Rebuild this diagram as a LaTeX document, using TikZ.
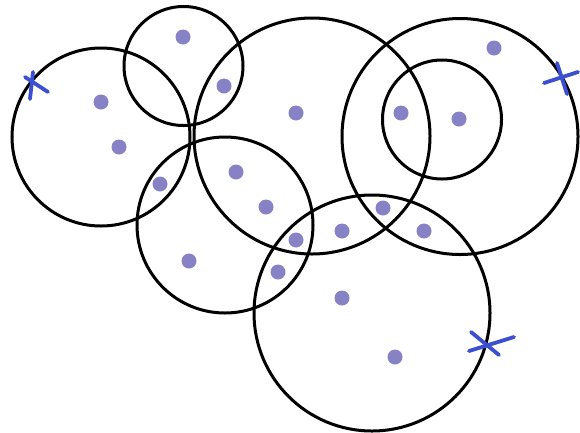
\documentclass[tikz,border=0pt]{standalone}
\definecolor{dotc}{HTML}{8781C6}
\definecolor{crossc}{HTML}{3A4FD2}
\tikzset{
  ring/.style={draw=black, line width=3pt},
  pt/.style={fill=dotc},
  crossline/.style={draw=crossc, line width=3.8pt, line cap=round}
}
\begin{document}
\begin{tikzpicture}[x=1pt,y=-1pt]
\useasboundingbox (0,0) rectangle (580,432);
% circles
\draw[ring] (101,137) circle (89);
\draw[ring] (183.5,66) circle (59.5);
\draw[ring] (312,136) circle (118);
\draw[ring] (460,136.5) circle (118);
\draw[ring] (442,119.5) circle (59.5);
\draw[ring] (225,225) circle (88);
\draw[ring] (372,313) circle (118);
% dots
\foreach \p in {(183,37),(101,102),(119,147),(224,86),(296,113),(401,113),(459,119),(494,48),(160,184),(236,172),(266,207),(296,240),(342,231),(383,208),(424,231),(189,261),(278,272),(342,298),(395,357)}
  \fill[pt] \p circle (7.5);
% crosses
\draw[crossline] (33,72) -- (30,99);
\draw[crossline] (25,77) -- (48,92);
\draw[crossline] (557,63) -- (567,94);
\draw[crossline] (544,83) -- (578,72);
\draw[crossline] (471,332) -- (499,355);
\draw[crossline] (469,351) -- (514,337);
\end{tikzpicture}
\end{document}
